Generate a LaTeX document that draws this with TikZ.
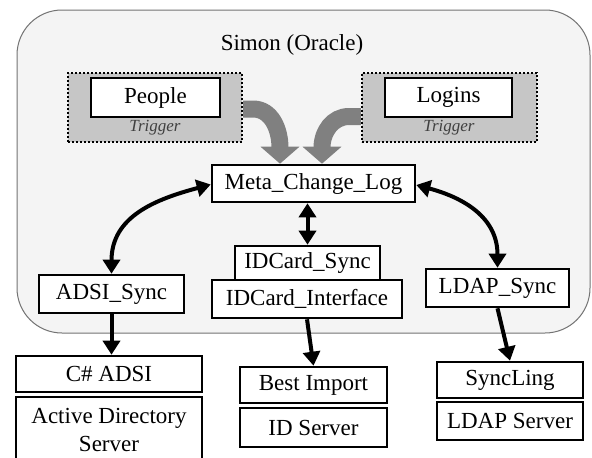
\documentclass[tikz,border=0pt]{standalone}
\usepackage{fontspec}
\setmainfont{Liberation Serif}
\newfontfamily\tnr{Liberation Serif}
\usetikzlibrary{arrows.meta,calc}
\begin{document}
\begin{tikzpicture}[x=1pt,y=1pt,
  box/.style={draw=black,line width=2.6pt,fill=white,inner sep=0pt,
    font=\tnr\fontsize{23}{28}\selectfont,align=center},
  trig/.style={draw=black,line width=2.2pt,dash pattern=on 2pt off 2pt,
    fill=gray!45,inner sep=0pt},
  trigtext/.style={font=\tnr\fontsize{17}{20}\selectfont\itshape,text=black!75},
  title/.style={font=\tnr\fontsize{23}{28}\selectfont},
  area/.style={draw=black!55,line width=1pt,fill=gray!9,rounded corners=45pt,inner sep=0pt},
  bi/.style={line width=4pt,{Triangle[length=14pt,width=17pt]}-{Triangle[length=14pt,width=17pt]}},
  uni/.style={line width=4pt,-{Triangle[length=14pt,width=17pt]}},
  fat/.style={line width=17pt,draw=black!50,-{Triangle[length=17pt,width=38pt]}}]
\useasboundingbox (0,0) rectangle (592,-458);
\fill[white] (0,0) rectangle (592,-458);

% outer area
\node[area,minimum width=573pt,minimum height=323pt] (simon) at (303.5,-171.5) {};
\node[title] (simontitle) at (292,-45) {Simon (Oracle)};

% triggers
\node[trig,minimum width=174pt,minimum height=69pt] (pout) at (155,-107.5) {};
\node[trig,minimum width=175pt,minimum height=69pt] (lout) at (449.5,-107.5) {};
\node[box,minimum width=129pt,minimum height=39pt] (people) at (155.5,-97.5) {People};
\node[box,minimum width=127pt,minimum height=39pt] (logins) at (448.5,-97.5) {Logins};
\node[trigtext] (ptrig) at (155,-128) {Trigger};
\node[trigtext] (ltrig) at (449,-128) {Trigger};

% central log
\node[box,minimum width=203pt,minimum height=37pt] (meta) at (313.5,-183.5) {Meta\_Change\_Log};

% sync boxes
\node[box,minimum width=145pt,minimum height=38pt] (adsi) at (111.5,-294) {ADSI\_Sync};
\node[box,minimum width=145pt,minimum height=34pt] (idsync) at (307.5,-263) {IDCard\_Sync};
\node[box,minimum width=190pt,minimum height=38pt] (idif) at (307,-299) {IDCard\_Interface};
\node[box,minimum width=143pt,minimum height=38pt] (ldap) at (497.5,-288) {LDAP\_Sync};

% external boxes
\node[box,minimum width=186pt,minimum height=36pt] (csadsi) at (109,-374) {C\# ADSI};
\node[box,minimum width=186pt,minimum height=66pt] (adserver) at (109,-430) {Active Directory\\Server};
\node[box,minimum width=147pt,minimum height=36pt] (best) at (313.5,-385) {Best Import};
\node[box,minimum width=147pt,minimum height=39pt] (idserver) at (313.5,-427.5) {ID Server};
\node[box,minimum width=146pt,minimum height=36pt] (syncling) at (510,-380) {SyncLing};
\node[box,minimum width=146pt,minimum height=38pt] (ldapserver) at (510,-421) {LDAP Server};

% gray trigger arrows
\draw[fat] ($(pout.east)+(0,-1.5)$) -- ++(10,0) to[out=0,in=90] ($(meta.north)+(-33.5,16)$) -- ($(meta.north)+(-33.5,0)$);
\draw[fat] ($(lout.west)+(0,-9)$) -- ++(-12,0) to[out=180,in=90] ($(meta.north)+(8.5,16)$) -- ($(meta.north)+(8.5,0)$);

% black connectors
\draw[bi] ($(meta.west)+(0,-1)$) to[out=195,in=90,looseness=1.1] (adsi.north);
\draw[bi] ($(meta.east)+(0,-1.5)$) to[out=-15,in=90,looseness=1.1] (ldap.north);
\draw[bi] (idsync.north |- meta.south) -- (idsync.north);
\draw[uni] (adsi.south) -- (adsi.south |- csadsi.north);
\draw[uni] (idif.south) -- (best.north);
\draw[uni] (ldap.south) -- (syncling.north);
\end{tikzpicture}
\end{document}
